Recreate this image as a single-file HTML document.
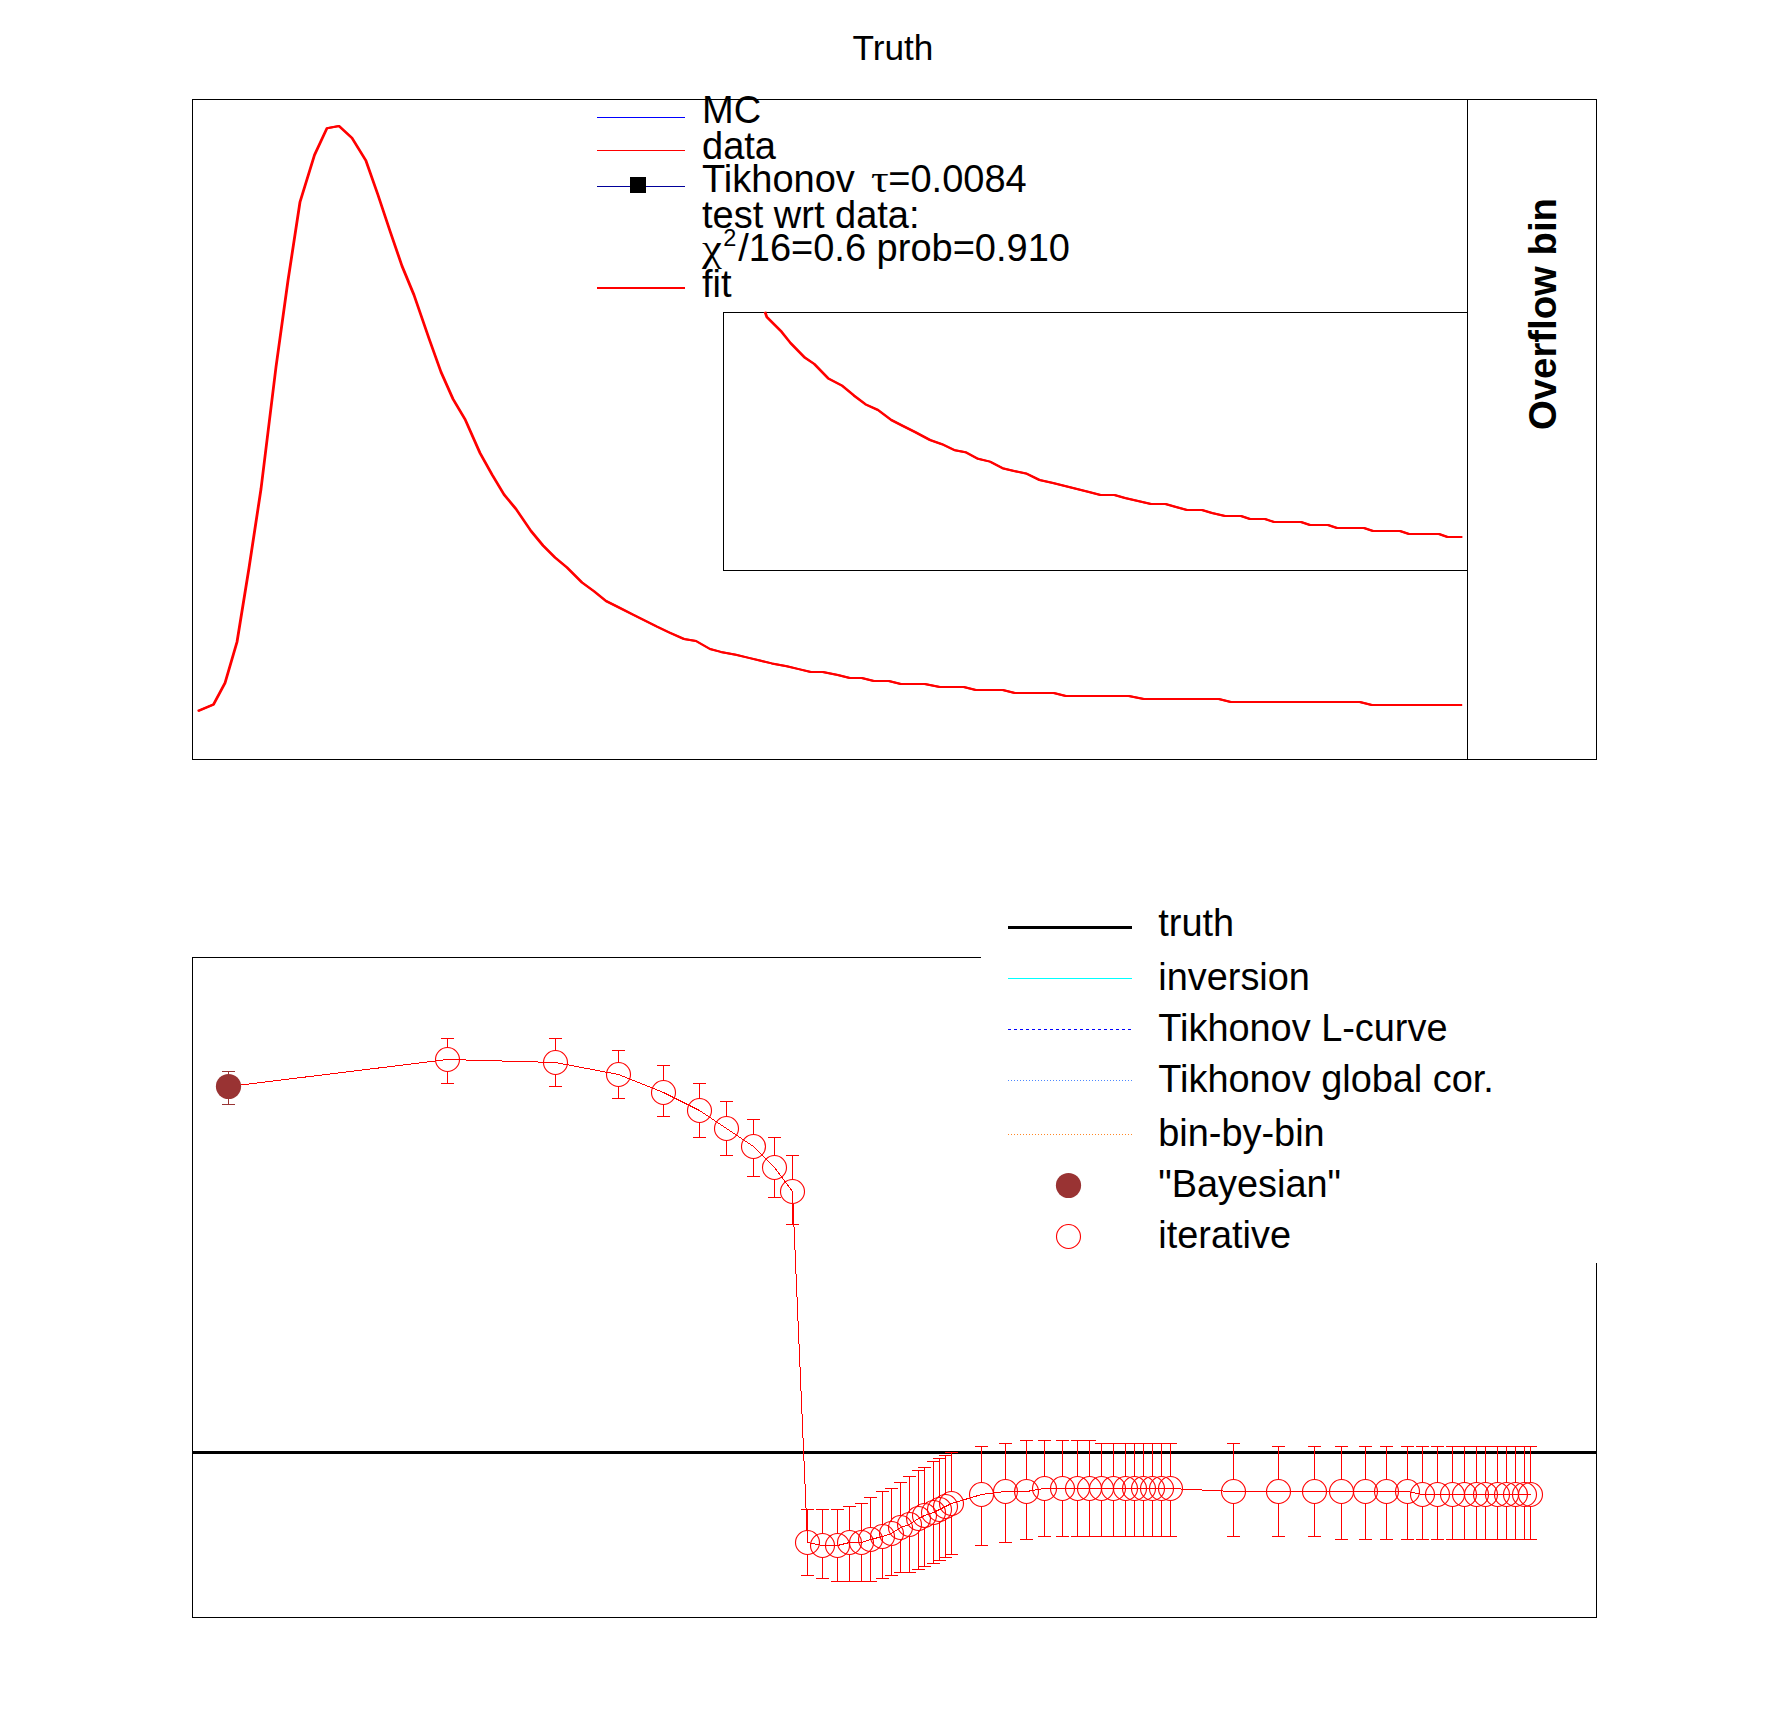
<!DOCTYPE html>
<html lang="en"><head><meta charset="utf-8"><title>Truth</title>
<style>
html,body{margin:0;padding:0;background:#fff;}
body{width:1788px;height:1716px;overflow:hidden;}
svg{display:block;}
text{font-family:"Liberation Sans",sans-serif;fill:#000;}
.g{font-family:"Liberation Serif",serif;}
.l{font-size:38px;}
.b{font-size:37.9px;}
</style></head><body>
<svg width="1788" height="1716" viewBox="0 0 1788 1716">
<rect x="0" y="0" width="1788" height="1716" fill="#fff"/>

<g shape-rendering="crispEdges" fill="none" stroke="#000" stroke-width="1">
<rect x="192.5" y="99.5" width="1404" height="660"/>
<line x1="1467.5" y1="99.5" x2="1467.5" y2="759.5"/>
<rect x="723.5" y="312.5" width="744" height="258"/>
</g>
<text x="893" y="60.2" font-size="35.2" text-anchor="middle">Truth</text>
<polyline transform="translate(-0.4,0)" points="198.0,711.0 213.5,704.5 225.0,683.0 237.0,642.0 249.0,568.0 261.0,489.0 276.0,367.0 288.0,280.5 300.0,202.0 314.5,155.0 327.0,128.2 339.0,126.0 352.0,138.0 366.0,160.8 378.0,195.0 390.0,231.0 402.0,266.0 414.0,295.0 429.0,338.5 441.0,372.0 453.0,399.0 465.0,419.2 480.0,453.0 492.0,474.6 504.0,494.5 516.0,509.0 531.0,531.0 543.0,545.5 555.0,557.5 567.0,567.5 582.0,582.5 594.0,591.3 606.0,601.0 618.0,607.0 633.0,614.7 645.0,620.7 657.0,626.7 669.0,632.3 684.0,639.0 696.0,641.0 710.0,649.0 720.8,651.9 735.8,654.8 747.8,657.6 759.8,660.5 771.8,663.4 786.8,666.2 798.8,669.1 810.8,672.0 822.8,672.0 837.8,675.0 849.8,678.0 861.8,678.0 873.8,681.0 888.8,681.0 900.8,684.0 912.8,684.0 924.8,684.0 939.8,687.0 951.8,687.0 963.8,687.0 975.8,690.0 990.8,690.0 1002.8,690.0 1014.8,693.0 1026.8,693.0 1041.8,693.0 1053.8,693.0 1065.8,696.0 1077.8,696.0 1092.8,696.0 1104.8,696.0 1116.8,696.0 1128.8,696.0 1143.8,699.0 1155.8,699.0 1167.8,699.0 1179.8,699.0 1194.8,699.0 1206.8,699.0 1218.8,699.0 1230.8,702.0 1245.8,702.0 1257.8,702.0 1269.8,702.0 1281.8,702.0 1296.8,702.0 1308.8,702.0 1320.8,702.0 1332.8,702.0 1347.8,702.0 1359.8,702.0 1371.8,705.0 1383.8,705.0 1398.8,705.0 1410.8,705.0 1422.8,705.0 1434.8,705.0 1449.8,705.0 1461.8,705.0" fill="none" stroke="#ff0000" stroke-width="2" stroke-linejoin="round"/>
<polyline transform="translate(-0.4,0)" points="765.0,311.8 766.8,317.0 781.6,331.8 790.5,343.0 804.9,357.7 814.3,364.0 828.6,378.7 842.5,385.9 854.0,395.6 865.5,404.3 878.0,410.0 891.3,420.0 903.0,426.0 915.0,432.0 930.0,440.0 942.0,444.2 955.0,450.3 965.5,452.2 978.0,458.8 990.0,461.6 1002.5,468.2 1014.0,471.0 1026.0,473.4 1039.5,480.0 1053.0,483.0 1065.0,486.0 1077.0,489.0 1089.0,492.0 1100.5,495.0 1114.5,495.0 1125.0,498.0 1138.0,501.0 1151.0,504.0 1165.5,504.0 1176.0,507.0 1187.0,510.0 1202.0,510.0 1212.0,513.0 1225.0,516.0 1241.0,516.0 1250.0,519.0 1265.0,519.0 1274.0,522.0 1287.0,522.0 1301.0,522.0 1310.0,525.0 1328.0,525.0 1337.0,528.0 1350.0,528.0 1364.0,528.0 1373.0,531.0 1386.0,531.0 1400.0,531.0 1409.0,534.0 1425.0,534.0 1439.0,534.0 1447.5,537.0 1462.0,537.0" fill="none" stroke="#ff0000" stroke-width="2" stroke-linejoin="round"/>
<polyline transform="translate(0.4,0)" points="198.0,711.0 213.5,704.5 225.0,683.0 237.0,642.0 249.0,568.0 261.0,489.0 276.0,367.0 288.0,280.5 300.0,202.0 314.5,155.0 327.0,128.2 339.0,126.0 352.0,138.0 366.0,160.8 378.0,195.0 390.0,231.0 402.0,266.0 414.0,295.0 429.0,338.5 441.0,372.0 453.0,399.0 465.0,419.2 480.0,453.0 492.0,474.6 504.0,494.5 516.0,509.0 531.0,531.0 543.0,545.5 555.0,557.5 567.0,567.5 582.0,582.5 594.0,591.3 606.0,601.0 618.0,607.0 633.0,614.7 645.0,620.7 657.0,626.7 669.0,632.3 684.0,639.0 696.0,641.0 710.0,649.0 720.8,651.9 735.8,654.8 747.8,657.6 759.8,660.5 771.8,663.4 786.8,666.2 798.8,669.1 810.8,672.0 822.8,672.0 837.8,675.0 849.8,678.0 861.8,678.0 873.8,681.0 888.8,681.0 900.8,684.0 912.8,684.0 924.8,684.0 939.8,687.0 951.8,687.0 963.8,687.0 975.8,690.0 990.8,690.0 1002.8,690.0 1014.8,693.0 1026.8,693.0 1041.8,693.0 1053.8,693.0 1065.8,696.0 1077.8,696.0 1092.8,696.0 1104.8,696.0 1116.8,696.0 1128.8,696.0 1143.8,699.0 1155.8,699.0 1167.8,699.0 1179.8,699.0 1194.8,699.0 1206.8,699.0 1218.8,699.0 1230.8,702.0 1245.8,702.0 1257.8,702.0 1269.8,702.0 1281.8,702.0 1296.8,702.0 1308.8,702.0 1320.8,702.0 1332.8,702.0 1347.8,702.0 1359.8,702.0 1371.8,705.0 1383.8,705.0 1398.8,705.0 1410.8,705.0 1422.8,705.0 1434.8,705.0 1449.8,705.0 1461.8,705.0" fill="none" stroke="#ff0000" stroke-width="2" stroke-linejoin="round"/>
<polyline transform="translate(0.4,0)" points="765.0,311.8 766.8,317.0 781.6,331.8 790.5,343.0 804.9,357.7 814.3,364.0 828.6,378.7 842.5,385.9 854.0,395.6 865.5,404.3 878.0,410.0 891.3,420.0 903.0,426.0 915.0,432.0 930.0,440.0 942.0,444.2 955.0,450.3 965.5,452.2 978.0,458.8 990.0,461.6 1002.5,468.2 1014.0,471.0 1026.0,473.4 1039.5,480.0 1053.0,483.0 1065.0,486.0 1077.0,489.0 1089.0,492.0 1100.5,495.0 1114.5,495.0 1125.0,498.0 1138.0,501.0 1151.0,504.0 1165.5,504.0 1176.0,507.0 1187.0,510.0 1202.0,510.0 1212.0,513.0 1225.0,516.0 1241.0,516.0 1250.0,519.0 1265.0,519.0 1274.0,522.0 1287.0,522.0 1301.0,522.0 1310.0,525.0 1328.0,525.0 1337.0,528.0 1350.0,528.0 1364.0,528.0 1373.0,531.0 1386.0,531.0 1400.0,531.0 1409.0,534.0 1425.0,534.0 1439.0,534.0 1447.5,537.0 1462.0,537.0" fill="none" stroke="#ff0000" stroke-width="2" stroke-linejoin="round"/>
<g shape-rendering="crispEdges">
<rect x="597" y="117" width="88" height="1" fill="#0000ff"/>
<rect x="597" y="150" width="88" height="1" fill="#ff0000"/>
<rect x="597" y="186" width="88" height="1" fill="#000099"/>
<rect x="630" y="177" width="16" height="16" fill="#000"/>
<rect x="597" y="287" width="88" height="2.4" fill="#ff0000"/>
</g>
<text class="l" x="702" y="123">MC</text>
<text class="l" x="702" y="159.3">data</text>
<text class="l" x="702" y="191.9">Tikhonov</text>
<text class="l g" transform="translate(870.9,191.9) scale(1.16,1)">τ</text>
<text class="l" x="888.3" y="191.9">=0.0084</text>
<text class="l" x="702" y="228">test wrt data:</text>
<text class="l g" transform="translate(702.1,261.1) scale(1.18,1)">χ</text>
<text x="723.3" y="245.9" font-size="23.5">2</text>
<text class="l" x="738.2" y="261.1" font-size="37.8">/16=0.6 prob=0.910</text>
<text class="l" x="702" y="296.9">fit</text>
<text font-size="38.3" font-weight="bold" transform="translate(1556,430) rotate(-90)">Overflow bin</text>
<g shape-rendering="crispEdges" fill="none" stroke="#000" stroke-width="1">
<rect x="192.5" y="957.5" width="1404" height="660"/>
</g>
<rect x="193" y="1451" width="1403" height="3" fill="#000" shape-rendering="crispEdges"/>
<polyline points="228.5,1086.5 447.5,1059.5 555.5,1062.5 618.5,1074.5 663.5,1092.5 699.5,1110.5 726.5,1128.5 753.5,1146.5 774.5,1167.5 792.5,1191.5 807.5,1542.5 822.5,1545.5 837.5,1545.5 849.5,1542.5 861.5,1542.5 870.5,1539.5 882.5,1536.5 891.5,1533.5 900.5,1527.5 909.5,1524.5 918.5,1518.5 924.5,1515.5 933.5,1512.5 939.5,1509.5 945.5,1506.5 951.5,1503.5 981.5,1494.5 1005.5,1491.5 1026.5,1491.5 1044.5,1488.5 1062.5,1488.5 1077.5,1488.5 1089.5,1488.5 1101.5,1488.5 1113.5,1488.5 1125.5,1488.5 1134.5,1488.5 1143.5,1488.5 1152.5,1488.5 1161.5,1488.5 1170.5,1488.5 1233.5,1491.5 1278.5,1491.5 1314.5,1491.5 1341.5,1491.5 1365.5,1491.5 1386.5,1491.5 1407.5,1491.5 1422.5,1494.5 1437.5,1494.5 1452.5,1494.5 1464.5,1494.5 1476.5,1494.5 1485.5,1494.5 1497.5,1494.5 1506.5,1494.5 1515.5,1494.5 1524.5,1494.5 1530.5,1494.5" fill="none" stroke="#ff0000" stroke-width="1" shape-rendering="crispEdges"/>
<path d="M447.5,1038.5V1047.5M447.5,1071.5V1083.5M441.0,1038.5H454.0M441.0,1083.5H454.0M555.5,1038.5V1050.5M555.5,1074.5V1086.5M549.0,1038.5H562.0M549.0,1086.5H562.0M618.5,1050.5V1062.5M618.5,1086.5V1098.5M612.0,1050.5H625.0M612.0,1098.5H625.0M663.5,1065.5V1080.5M663.5,1104.5V1116.5M657.0,1065.5H670.0M657.0,1116.5H670.0M699.5,1083.5V1098.5M699.5,1122.5V1137.5M693.0,1083.5H706.0M693.0,1137.5H706.0M726.5,1101.5V1116.5M726.5,1140.5V1155.5M720.0,1101.5H733.0M720.0,1155.5H733.0M753.5,1119.5V1134.5M753.5,1158.5V1176.5M747.0,1119.5H760.0M747.0,1176.5H760.0M774.5,1137.5V1155.5M774.5,1179.5V1197.5M768.0,1137.5H781.0M768.0,1197.5H781.0M792.5,1155.5V1179.5M792.5,1203.5V1224.5M786.0,1155.5H799.0M786.0,1224.5H799.0M807.5,1509.5V1530.5M807.5,1554.5V1575.5M801.0,1509.5H814.0M801.0,1575.5H814.0M822.5,1509.5V1533.5M822.5,1557.5V1578.5M816.0,1509.5H829.0M816.0,1578.5H829.0M837.5,1509.5V1533.5M837.5,1557.5V1581.5M831.0,1509.5H844.0M831.0,1581.5H844.0M849.5,1506.5V1530.5M849.5,1554.5V1581.5M843.0,1506.5H856.0M843.0,1581.5H856.0M861.5,1503.5V1530.5M861.5,1554.5V1581.5M855.0,1503.5H868.0M855.0,1581.5H868.0M870.5,1497.5V1527.5M870.5,1551.5V1581.5M864.0,1497.5H877.0M864.0,1581.5H877.0M882.5,1491.5V1524.5M882.5,1548.5V1578.5M876.0,1491.5H889.0M876.0,1578.5H889.0M891.5,1488.5V1521.5M891.5,1545.5V1575.5M885.0,1488.5H898.0M885.0,1575.5H898.0M900.5,1482.5V1515.5M900.5,1539.5V1572.5M894.0,1482.5H907.0M894.0,1572.5H907.0M909.5,1476.5V1512.5M909.5,1536.5V1572.5M903.0,1476.5H916.0M903.0,1572.5H916.0M918.5,1470.5V1506.5M918.5,1530.5V1569.5M912.0,1470.5H925.0M912.0,1569.5H925.0M924.5,1467.5V1503.5M924.5,1527.5V1566.5M918.0,1467.5H931.0M918.0,1566.5H931.0M933.5,1461.5V1500.5M933.5,1524.5V1563.5M927.0,1461.5H940.0M927.0,1563.5H940.0M939.5,1458.5V1497.5M939.5,1521.5V1560.5M933.0,1458.5H946.0M933.0,1560.5H946.0M945.5,1455.5V1494.5M945.5,1518.5V1557.5M939.0,1455.5H952.0M939.0,1557.5H952.0M951.5,1452.5V1491.5M951.5,1515.5V1554.5M945.0,1452.5H958.0M945.0,1554.5H958.0M981.5,1446.5V1482.5M981.5,1506.5V1545.5M975.0,1446.5H988.0M975.0,1545.5H988.0M1005.5,1443.5V1479.5M1005.5,1503.5V1542.5M999.0,1443.5H1012.0M999.0,1542.5H1012.0M1026.5,1440.5V1479.5M1026.5,1503.5V1539.5M1020.0,1440.5H1033.0M1020.0,1539.5H1033.0M1044.5,1440.5V1476.5M1044.5,1500.5V1536.5M1038.0,1440.5H1051.0M1038.0,1536.5H1051.0M1062.5,1440.5V1476.5M1062.5,1500.5V1536.5M1056.0,1440.5H1069.0M1056.0,1536.5H1069.0M1077.5,1440.5V1476.5M1077.5,1500.5V1536.5M1071.0,1440.5H1084.0M1071.0,1536.5H1084.0M1089.5,1440.5V1476.5M1089.5,1500.5V1536.5M1083.0,1440.5H1096.0M1083.0,1536.5H1096.0M1101.5,1443.5V1476.5M1101.5,1500.5V1536.5M1095.0,1443.5H1108.0M1095.0,1536.5H1108.0M1113.5,1443.5V1476.5M1113.5,1500.5V1536.5M1107.0,1443.5H1120.0M1107.0,1536.5H1120.0M1125.5,1443.5V1476.5M1125.5,1500.5V1536.5M1119.0,1443.5H1132.0M1119.0,1536.5H1132.0M1134.5,1443.5V1476.5M1134.5,1500.5V1536.5M1128.0,1443.5H1141.0M1128.0,1536.5H1141.0M1143.5,1443.5V1476.5M1143.5,1500.5V1536.5M1137.0,1443.5H1150.0M1137.0,1536.5H1150.0M1152.5,1443.5V1476.5M1152.5,1500.5V1536.5M1146.0,1443.5H1159.0M1146.0,1536.5H1159.0M1161.5,1443.5V1476.5M1161.5,1500.5V1536.5M1155.0,1443.5H1168.0M1155.0,1536.5H1168.0M1170.5,1443.5V1476.5M1170.5,1500.5V1536.5M1164.0,1443.5H1177.0M1164.0,1536.5H1177.0M1233.5,1443.5V1479.5M1233.5,1503.5V1536.5M1227.0,1443.5H1240.0M1227.0,1536.5H1240.0M1278.5,1446.5V1479.5M1278.5,1503.5V1536.5M1272.0,1446.5H1285.0M1272.0,1536.5H1285.0M1314.5,1446.5V1479.5M1314.5,1503.5V1536.5M1308.0,1446.5H1321.0M1308.0,1536.5H1321.0M1341.5,1446.5V1479.5M1341.5,1503.5V1539.5M1335.0,1446.5H1348.0M1335.0,1539.5H1348.0M1365.5,1446.5V1479.5M1365.5,1503.5V1539.5M1359.0,1446.5H1372.0M1359.0,1539.5H1372.0M1386.5,1446.5V1479.5M1386.5,1503.5V1539.5M1380.0,1446.5H1393.0M1380.0,1539.5H1393.0M1407.5,1446.5V1479.5M1407.5,1503.5V1539.5M1401.0,1446.5H1414.0M1401.0,1539.5H1414.0M1422.5,1446.5V1482.5M1422.5,1506.5V1539.5M1416.0,1446.5H1429.0M1416.0,1539.5H1429.0M1437.5,1446.5V1482.5M1437.5,1506.5V1539.5M1431.0,1446.5H1444.0M1431.0,1539.5H1444.0M1452.5,1446.5V1482.5M1452.5,1506.5V1539.5M1446.0,1446.5H1459.0M1446.0,1539.5H1459.0M1464.5,1446.5V1482.5M1464.5,1506.5V1539.5M1458.0,1446.5H1471.0M1458.0,1539.5H1471.0M1476.5,1446.5V1482.5M1476.5,1506.5V1539.5M1470.0,1446.5H1483.0M1470.0,1539.5H1483.0M1485.5,1446.5V1482.5M1485.5,1506.5V1539.5M1479.0,1446.5H1492.0M1479.0,1539.5H1492.0M1497.5,1446.5V1482.5M1497.5,1506.5V1539.5M1491.0,1446.5H1504.0M1491.0,1539.5H1504.0M1506.5,1446.5V1482.5M1506.5,1506.5V1539.5M1500.0,1446.5H1513.0M1500.0,1539.5H1513.0M1515.5,1446.5V1482.5M1515.5,1506.5V1539.5M1509.0,1446.5H1522.0M1509.0,1539.5H1522.0M1524.5,1446.5V1482.5M1524.5,1506.5V1539.5M1518.0,1446.5H1531.0M1518.0,1539.5H1531.0M1530.5,1446.5V1482.5M1530.5,1506.5V1539.5M1524.0,1446.5H1537.0M1524.0,1539.5H1537.0" fill="none" stroke="#ff0000" stroke-width="1" shape-rendering="crispEdges"/>
<g fill="none" stroke="#ff0000" stroke-width="1.1">
<circle cx="447.5" cy="1059.5" r="12"/>
<circle cx="555.5" cy="1062.5" r="12"/>
<circle cx="618.5" cy="1074.5" r="12"/>
<circle cx="663.5" cy="1092.5" r="12"/>
<circle cx="699.5" cy="1110.5" r="12"/>
<circle cx="726.5" cy="1128.5" r="12"/>
<circle cx="753.5" cy="1146.5" r="12"/>
<circle cx="774.5" cy="1167.5" r="12"/>
<circle cx="792.5" cy="1191.5" r="12"/>
<circle cx="807.5" cy="1542.5" r="12"/>
<circle cx="822.5" cy="1545.5" r="12"/>
<circle cx="837.5" cy="1545.5" r="12"/>
<circle cx="849.5" cy="1542.5" r="12"/>
<circle cx="861.5" cy="1542.5" r="12"/>
<circle cx="870.5" cy="1539.5" r="12"/>
<circle cx="882.5" cy="1536.5" r="12"/>
<circle cx="891.5" cy="1533.5" r="12"/>
<circle cx="900.5" cy="1527.5" r="12"/>
<circle cx="909.5" cy="1524.5" r="12"/>
<circle cx="918.5" cy="1518.5" r="12"/>
<circle cx="924.5" cy="1515.5" r="12"/>
<circle cx="933.5" cy="1512.5" r="12"/>
<circle cx="939.5" cy="1509.5" r="12"/>
<circle cx="945.5" cy="1506.5" r="12"/>
<circle cx="951.5" cy="1503.5" r="12"/>
<circle cx="981.5" cy="1494.5" r="12"/>
<circle cx="1005.5" cy="1491.5" r="12"/>
<circle cx="1026.5" cy="1491.5" r="12"/>
<circle cx="1044.5" cy="1488.5" r="12"/>
<circle cx="1062.5" cy="1488.5" r="12"/>
<circle cx="1077.5" cy="1488.5" r="12"/>
<circle cx="1089.5" cy="1488.5" r="12"/>
<circle cx="1101.5" cy="1488.5" r="12"/>
<circle cx="1113.5" cy="1488.5" r="12"/>
<circle cx="1125.5" cy="1488.5" r="12"/>
<circle cx="1134.5" cy="1488.5" r="12"/>
<circle cx="1143.5" cy="1488.5" r="12"/>
<circle cx="1152.5" cy="1488.5" r="12"/>
<circle cx="1161.5" cy="1488.5" r="12"/>
<circle cx="1170.5" cy="1488.5" r="12"/>
<circle cx="1233.5" cy="1491.5" r="12"/>
<circle cx="1278.5" cy="1491.5" r="12"/>
<circle cx="1314.5" cy="1491.5" r="12"/>
<circle cx="1341.5" cy="1491.5" r="12"/>
<circle cx="1365.5" cy="1491.5" r="12"/>
<circle cx="1386.5" cy="1491.5" r="12"/>
<circle cx="1407.5" cy="1491.5" r="12"/>
<circle cx="1422.5" cy="1494.5" r="12"/>
<circle cx="1437.5" cy="1494.5" r="12"/>
<circle cx="1452.5" cy="1494.5" r="12"/>
<circle cx="1464.5" cy="1494.5" r="12"/>
<circle cx="1476.5" cy="1494.5" r="12"/>
<circle cx="1485.5" cy="1494.5" r="12"/>
<circle cx="1497.5" cy="1494.5" r="12"/>
<circle cx="1506.5" cy="1494.5" r="12"/>
<circle cx="1515.5" cy="1494.5" r="12"/>
<circle cx="1524.5" cy="1494.5" r="12"/>
<circle cx="1530.5" cy="1494.5" r="12"/>
</g>
<path d="M228.5,1071.5V1104.5M222.0,1071.5H235.0M222.0,1104.5H235.0" fill="none" stroke="#993333" stroke-width="1" shape-rendering="crispEdges"/>
<circle cx="228.5" cy="1086.5" r="12.6" fill="#993333"/>
<rect x="981" y="880" width="640" height="383" fill="#fff"/>
<g shape-rendering="crispEdges">
<rect x="1008" y="926" width="124" height="3" fill="#000"/>
<rect x="1008" y="978" width="124" height="1" fill="#00ffff"/>
<line x1="1008" y1="1029.5" x2="1132" y2="1029.5" stroke="#0000ff" stroke-width="1" stroke-dasharray="3 3"/>
<line x1="1008" y1="1080.5" x2="1132" y2="1080.5" stroke="#4d88ff" stroke-width="1" stroke-dasharray="1 2"/>
<line x1="1008" y1="1134.5" x2="1132" y2="1134.5" stroke="#ff8826" stroke-width="1" stroke-dasharray="1 2"/>
</g>
<circle cx="1068.5" cy="1185.5" r="12.6" fill="#993333"/>
<circle cx="1068.5" cy="1236.5" r="12" fill="none" stroke="#ff0000" stroke-width="1.1"/>
<text class="b" x="1158.3" y="935.6">truth</text>
<text class="b" x="1158.3" y="990.1">inversion</text>
<text class="b" x="1158.3" y="1041.1">Tikhonov L-curve</text>
<text class="b" x="1158.3" y="1091.9">Tikhonov global cor.</text>
<text class="b" x="1158.3" y="1146">bin-by-bin</text>
<text class="b" x="1158.3" y="1196.8">&quot;Bayesian&quot;</text>
<text class="b" x="1158.3" y="1248">iterative</text>
</svg></body></html>
